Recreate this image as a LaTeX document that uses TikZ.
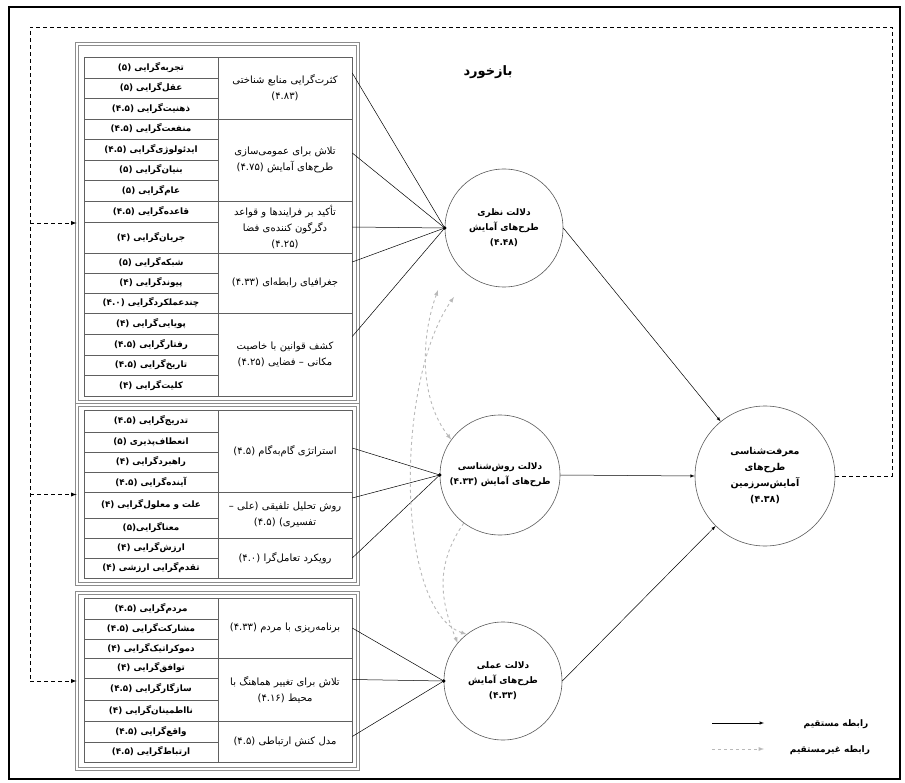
\documentclass[tikz,border=0pt]{standalone}
\usepackage{fontspec}
\usepackage{tikz}
\usetikzlibrary{shapes,backgrounds}
\newfontfamily\farsi[Script=Arabic]{DejaVu Sans}
\TeXXeTstate=1
\newcommand{\fa}[1]{{\farsi\beginR#1\endR}}

\begin{document}
\begin{tikzpicture}[x=1pt,y=-1pt,
		subcell/.style={draw=gray!75!black, line width=0.5pt, minimum width=134pt, inner sep=0pt, font=\fontsize{8.8}{9}\selectfont\bfseries},
		maincell/.style={draw=gray!75!black, line width=0.5pt, minimum width=134pt, text width=130pt, align=center, inner sep=0pt, font=\fontsize{10}{16}\selectfont},
		groupframe/.style={draw=black!45, double=white, double distance=1.4pt, line width=0.9pt, minimum width=281pt, inner sep=0pt},
		dim/.style={circle, draw=gray!70!black, line width=0.6pt, minimum size=118pt, inner sep=0pt, align=center, font=\fontsize{9}{15}\selectfont\bfseries},
		feed/.style={dash pattern=on 4pt off 3pt, line width=0.9pt},
		indirect/.style={gray!55, dash pattern=on 3pt off 3pt, line width=0.9pt},
		link/.style={line width=0.5pt}]
		\useasboundingbox (0,0) rectangle (905,783);
		\draw[line width=1.3pt] (9,7) rectangle (900,779);
		% groups
		\node[groupframe, minimum height=358pt] (g1) at (217.5,223) {};
		\node[groupframe, minimum height=179pt] (g2) at (217.5,494.5) {};
		\node[groupframe, minimum height=176pt] (g3) at (217.5,681) {};
		% sub items
		\foreach \ya/\yb/\txt [count=\i] in {57/78/تجربه‌گرایی (۵), 78/98/عقل‌گرایی (۵), 98/119/ذهنیت‌گرایی (۴.۵),
			119/139/منفعت‌گرایی (۴.۵), 139/160/ایدئولوژی‌گرایی (۴.۵), 160/180/بنیان‌گرایی (۵), 180/201/عام‌گرایی (۵),
			201/222/قاعده‌گرایی (۴.۵), 222/253/جریان‌گرایی (۴), 253/273/شبکه‌گرایی (۵), 273/293/پیوندگرایی (۴),
			293/313/چندعملکردگرایی (۴.۰), 313/334/پویایی‌گرایی (۴), 334/355/رفتارگرایی (۴.۵), 355/375/تاریخ‌گرایی (۴.۵),
			375/396/کلیت‌گرایی (۴),
			410/432/تدریج‌گرایی (۴.۵), 432/452/انعطاف‌پذیری (۵), 452/472/راهبردگرایی (۴), 472/492/آینده‌گرایی (۴.۵),
			492/518/علت و معلول‌گرایی (۴), 518/538/معناگرایی(۵), 538/558/ارزش‌گرایی (۴), 558/578/تقدم‌گرایی ارزشی (۴),
			598/619/مردم‌گرایی (۴.۵), 619/639/مشارکت‌گرایی (۴.۵), 639/658/دموکراتیک‌گرایی (۴), 658/678/توافق‌گرایی (۴),
			678/700/سازگارگرایی (۴.۵), 700/721/نااطمینان‌گرایی (۴), 721/742/واقع‌گرایی (۴.۵), 742/762/ارتباط‌گرایی (۴.۵)}
			\node[subcell, minimum height={\yb-\ya}] (s\i) at (151,{(\ya+\yb)/2}) {\fa{\txt}};
		% main items
		\node[maincell, minimum height=62pt] (m1) at (285,88) {\fa{کثرت‌گرایی منابع شناختی}\\\fa{(۴.۸۳)}};
		\node[maincell, minimum height=82pt] (m2) at (285,160) {\fa{تلاش برای عمومی‌سازی}\\\fa{طرح‌های آمایش (۴.۷۵)}};
		\node[maincell, minimum height=52pt] (m3) at (285,227) {\fa{تأکید بر فرایندها و قواعد}\\\fa{دگرگون کننده‌ی فضا}\\\fa{(۴.۲۵)}};
		\node[maincell, minimum height=60pt] (m4) at (285,283) {\fa{جغرافیای رابطه‌ای (۴.۳۳)}};
		\node[maincell, minimum height=83pt] (m5) at (285,354.5) {\fa{کشف قوانین با خاصیت}\\\fa{مکانی – فضایی (۴.۲۵)}};
		\node[maincell, minimum height=82pt] (m6) at (285,451) {\fa{استراتژی گام‌به‌گام (۴.۵)}};
		\node[maincell, minimum height=46pt] (m7) at (285,515) {\fa{روش تحلیل تلفیقی (علی –}\\\fa{تفسیری) (۴.۵)}};
		\node[maincell, minimum height=40pt] (m8) at (285,558) {\fa{رویکرد تعامل‌گرا (۴.۰)}};
		\node[maincell, minimum height=60pt] (m9) at (285,628) {\fa{برنامه‌ریزی با مردم (۴.۳۳)}};
		\node[maincell, minimum height=63pt] (m10) at (285,689.5) {\fa{تلاش برای تغییر هماهنگ با}\\\fa{محیط (۴.۱۶)}};
		\node[maincell, minimum height=41pt] (m11) at (285,741.5) {\fa{مدل کنش ارتباطی (۴.۵)}};
		% dimensions
		\node[dim] (c1) at (504,228) {\fa{دلالت نظری}\\\fa{طرح‌های آمایش}\\\fa{(۴.۴۸)}};
		\node[dim, minimum size=120pt] (c2) at (500,475) {\fa{دلالت روش‌شناسی}\\\fa{طرح‌های آمایش (۴.۳۳)}};
		\node[dim] (c3) at (503,681) {\fa{دلالت عملی}\\\fa{طرح‌های آمایش}\\\fa{(۴.۳۳)}};
		\node[dim, minimum size=140pt, font=\fontsize{9.5}{16}\selectfont\bfseries] (c4) at (765,476) {\fa{معرفت‌شناسی}\\\fa{طرح‌های}\\\fa{آمایش‌سرزمین}\\\fa{(۴.۳۸)}};
		% links
		\foreach \m/\s in {1/15,2/7,3/0,4/21,5/18}
			\draw[link] ([yshift=\s pt]m\m.east) -- (c1.west);
		\foreach \m/\s in {6/3,7/17,8/0}
			\draw[link] ([yshift=\s pt]m\m.east) -- (c2.west);
		\foreach \m/\s in {9/0,10/10,11/5}
			\draw[link] ([yshift=\s pt]m\m.east) -- (c3.west);
		\foreach \c in {c1,c2,c3}
			\fill (\c.west) circle (1.8pt);
		\draw[link,-latex] (c1.east) -- (c4);
		\draw[link,-latex] (c2.east) -- (c4.west);
		\draw[link,-latex] (c3.east) -- (c4);
		% indirect relations
		\coordinate (i1) at (438,290);
		\coordinate (i2) at (454,297);
		\draw[indirect,latex-latex] (c2.144) .. controls (420,400) and (420,340) .. (i1);
		\draw[indirect,latex-latex] (c3.128) .. controls (395,610) and (395,380) .. (i2);
		\draw[indirect,-latex] (c2.233) .. controls (435,565) and (440,600) .. (c3.140);
		% feedback
		\node[font=\fontsize{13}{15}\selectfont\bfseries] (fb) at (488,72) {\fa{بازخورد}};
		\coordinate (fbr) at (892,476);
		\coordinate (fbtr) at (892,27);
		\coordinate (fbtl) at (30,27);
		\coordinate (fbbl) at (fbtl |- g3.west);
		\draw[feed] (c4.east) -- (fbr) -- (fbtr) -- (fbtl) -- (fbbl);
		\foreach \g in {g1,g2,g3}
			\draw[feed,-latex] (fbtl |- \g.west) -- (\g.west);
		% legend
		\coordinate (l1a) at (712,723);
		\coordinate (l1b) at (764,723);
		\coordinate (l2a) at (712,749);
		\coordinate (l2b) at (764,749);
		\draw[link,-latex] (l1a) -- (l1b);
		\draw[indirect,-latex] (l2a) -- (l2b);
		\node[font=\fontsize{9}{10}\selectfont\bfseries] (t1) at (836,724) {\fa{رابطه مستقیم}};
		\node[font=\fontsize{9}{10}\selectfont\bfseries] (t2) at (830,750) {\fa{رابطه غیرمستقیم}};
	\end{tikzpicture}
\end{document}
